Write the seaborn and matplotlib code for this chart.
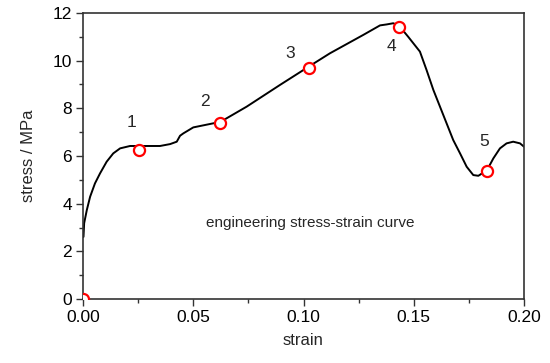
import matplotlib
matplotlib.use("Agg")
import matplotlib.pyplot as plt
import seaborn as sns
import pandas as pd
from matplotlib.ticker import MultipleLocator

strain = [0.0, 0.0002, 0.0005, 0.0017, 0.0032, 0.0054, 0.0077, 0.0107, 0.0137, 0.0168,
          0.0213, 0.0349, 0.0395, 0.0425, 0.044, 0.0455, 0.05, 0.059, 0.0621, 0.0742,
          0.0893, 0.1022, 0.112, 0.1271, 0.1347, 0.1377, 0.1407, 0.1433, 0.1475, 0.1528,
          0.1558, 0.1589, 0.1619, 0.1649, 0.1679, 0.171, 0.174, 0.177, 0.1793, 0.1832,
          0.1861, 0.1891, 0.1921, 0.1951, 0.1982, 0.20]
stress = [2.6, 2.61, 3.18, 3.73, 4.29, 4.85, 5.27, 5.76, 6.11, 6.32,
          6.42, 6.42, 6.50, 6.60, 6.85, 6.95, 7.20, 7.37, 7.42, 8.07,
          8.98, 9.74, 10.31, 11.08, 11.48, 11.52, 11.57, 11.47, 11.0, 10.38,
          9.61, 8.77, 8.07, 7.37, 6.67, 6.11, 5.55, 5.20, 5.17, 5.40,
          5.90, 6.32, 6.53, 6.60, 6.53, 6.39]

pt_strain = [0.0, 0.0255, 0.0621, 0.1025, 0.1433, 0.1832]
pt_stress = [0.0, 6.25, 7.40, 9.70, 11.42, 5.35]
pt_labels = ["", "1", "2", "3", "4", "5"]
lbl_strain = [0.0, 0.0222, 0.0553, 0.0939, 0.1397, 0.1819]
lbl_stress = [0.0, 7.4, 8.3, 10.3, 10.6, 6.6]

curve = pd.DataFrame({"strain": strain, "stress": stress})
pts = pd.DataFrame({"strain": pt_strain, "stress": pt_stress})

sns.set_style("white")
plt.rcParams["font.family"] = ["Liberation Sans", "DejaVu Sans"]

fig = plt.figure(figsize=(5.5, 3.63), dpi=100)
ax = fig.add_axes([0.151, 0.1763, 0.8017, 0.7879])

sns.lineplot(data=curve, x="strain", y="stress", ax=ax, color="black", linewidth=1.4,
             sort=False, estimator=None)
ax.plot(pts["strain"], pts["stress"], linestyle="none", marker="o", markersize=8,
        markerfacecolor="white", markeredgecolor="red", markeredgewidth=1.6, zorder=5)

for xs, ys, t in zip(lbl_strain, lbl_stress, pt_labels):
    if t:
        ax.text(xs, ys, t, ha="center", va="center", fontsize=12.5)

ax.text(0.103, 3.2, "engineering stress-strain curve", ha="center", va="center", fontsize=11)

ax.set_xlim(0, 0.20)
ax.set_ylim(0, 12)
ax.xaxis.set_major_locator(MultipleLocator(0.05))
ax.xaxis.set_minor_locator(MultipleLocator(0.025))
ax.yaxis.set_major_locator(MultipleLocator(2))
ax.yaxis.set_minor_locator(MultipleLocator(1))
ax.set_xticklabels([f"{v:.2f}" for v in ax.get_xticks()])
ax.tick_params(axis="both", which="major", direction="out", length=5, width=1,
               colors="#333333", labelsize=12.5, labelcolor="black", top=False, right=False,
               bottom=True, left=True, pad=3)
ax.tick_params(axis="both", which="minor", direction="out", length=3, width=1,
               colors="#333333", top=False, right=False, bottom=True, left=True)
for s in ax.spines.values():
    s.set_color("#333333")
    s.set_linewidth(1.2)
ax.set_xlabel("strain", fontsize=12, labelpad=6)
ax.set_ylabel("stress / MPa", fontsize=12, labelpad=12)

fig.savefig("out.png", dpi=100)
